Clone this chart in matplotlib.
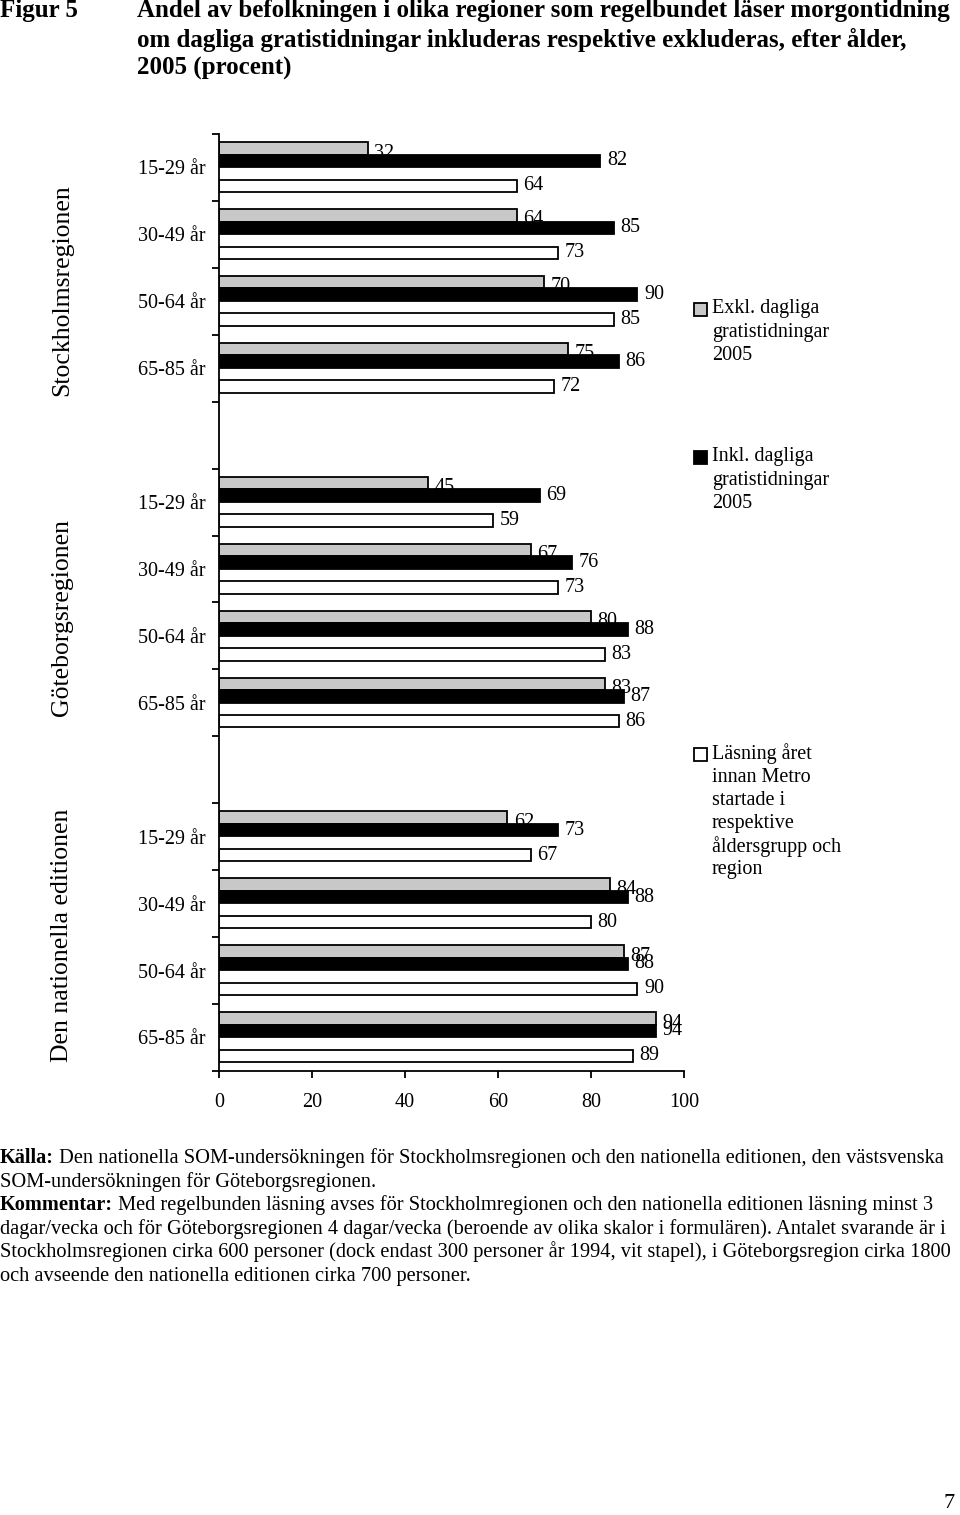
import numpy as np
import matplotlib
matplotlib.use("Agg")
import matplotlib.pyplot as plt
from matplotlib.patches import Rectangle

plt.rcParams['font.family'] = ['Liberation Serif', 'DejaVu Serif']

# data
regioner = ["Stockholmsregionen", "Göteborgsregionen", "Den nationella editionen"]
aldrar = ["15-29 år", "30-49 år", "50-64 år", "65-85 år"]
exkl = [32, 64, 70, 75, 45, 67, 80, 83, 62, 84, 87, 94]
inkl = [82, 85, 90, 86, 69, 76, 88, 87, 73, 88, 88, 94]
fore = [64, 73, 85, 72, 59, 73, 83, 86, 67, 80, 90, 89]
xticks = [0, 20, 40, 60, 80, 100]

grey = "#c8c8c8"
fs = 14.5

fig = plt.figure(figsize=(9.6, 15.15), dpi=100)
ax = fig.add_axes([0.228, 0.2931, 0.4845, 0.6185])

# one empty slot between each region
slots = []
for r in range(3):
    for a in range(4):
        slots.append(r * 5 + a)
slots = np.array(slots)

h = 0.186
y_ex = slots + 0.216
y_in = slots + 0.402
y_fo = slots + 0.775

ax.barh(y_ex, exkl, height=h, color=grey, edgecolor="black", linewidth=1.3, zorder=2)
ax.barh(y_in, inkl, height=h, color="black", edgecolor="black", linewidth=1.3, zorder=4)
ax.barh(y_fo, fore, height=h, color="white", edgecolor="black", linewidth=1.3, zorder=2)

for i in range(len(slots)):
    ax.text(exkl[i] + 1.4, y_ex[i] + 0.07, str(exkl[i]), va="center", ha="left",
            fontsize=fs, zorder=3)
    ax.text(inkl[i] + 1.4, y_in[i], str(inkl[i]), va="center", ha="left",
            fontsize=fs, zorder=5)
    ax.text(fore[i] + 1.4, y_fo[i], str(fore[i]), va="center", ha="left",
            fontsize=fs, zorder=5)

ax.set_xlim(0, 100)
ax.set_ylim(14, 0)
ax.set_xticks(xticks)
ax.set_xticklabels([str(v) for v in xticks], fontsize=fs)
ax.set_yticks(np.arange(15))
ax.set_yticklabels([])
ax.set_yticks(slots + 0.5, minor=True)
ax.set_yticklabels(aldrar * 3, minor=True, fontsize=fs)
ax.tick_params(axis="y", which="minor", length=0, pad=9.5)
ax.tick_params(axis="y", which="major", length=5, width=1.3, direction="out")
ax.tick_params(axis="x", length=5, width=1.3, direction="out", pad=11)
for s in ["top", "right"]:
    ax.spines[s].set_visible(False)
for s in ["left", "bottom"]:
    ax.spines[s].set_linewidth(1.3)

# region labels
for name, yc in zip(regioner, [290, 618, 935]):
    fig.text(62 / 960, 1 - yc / 1515, name, rotation=90, ha="center", va="center",
             fontsize=18.5)

# legend
legend = [
    (grey, ["Exkl. dagliga", "gratistidningar", "2005"], 309),
    ("black", ["Inkl. dagliga", "gratistidningar", "2005"], 457),
    ("white", ["Läsning året", "innan Metro", "startade i", "respektive",
               "åldersgrupp och", "region"], 754),
]
W, H = 960, 1515
for col, lines, y0 in legend:
    fig.patches.append(Rectangle((694 / W, 1 - (y0 + 7) / H), 13 / W, 13 / H,
                                 facecolor=col, edgecolor="black", linewidth=1.3,
                                 transform=fig.transFigure, figure=fig))
    for k, ln in enumerate(lines):
        fig.text(712 / W, 1 - (y0 + k * 23.2) / H, ln, ha="left", va="center",
                 fontsize=fs)

# title
tfs = 18
fig.text(0, 1 - 11 / H, "Figur 5", fontsize=tfs, fontweight="bold", va="center")
title = ["Andel av befolkningen i olika regioner som regelbundet läser morgontidning",
         "om dagliga gratistidningar inkluderas respektive exkluderas, efter ålder,",
         "2005 (procent)"]
for k, ln in enumerate(title):
    fig.text(137 / W, 1 - (11 + k * 28.5) / H, ln, fontsize=tfs, fontweight="bold",
             va="center")

# notes
fn = 14.7
notes = [
    ("Källa:", " Den nationella SOM-undersökningen för Stockholmsregionen och den nationella editionen, den västsvenska"),
    ("", "SOM-undersökningen för Göteborgsregionen."),
    ("Kommentar:", " Med regelbunden läsning avses för Stockholmregionen och den nationella editionen läsning minst 3"),
    ("", "dagar/vecka och för Göteborgsregionen 4 dagar/vecka (beroende av olika skalor i formulären). Antalet svarande är i"),
    ("", "Stockholmsregionen cirka 600 personer (dock endast 300 personer år 1994, vit stapel), i Göteborgsregion cirka 1800"),
    ("", "och avseende den nationella editionen cirka 700 personer."),
]
for k, (b, t) in enumerate(notes):
    yb = 1 - (1163 + k * 23.6) / H
    if b:
        bt = fig.text(0, yb, b, fontsize=fn, fontweight="bold", va="baseline")
        plt.annotate(t, xy=(1, 0), xycoords=bt, va="bottom", ha="left", fontsize=fn,
                     annotation_clip=False)
    else:
        fig.text(0, yb, t, fontsize=fn, va="baseline")

fig.text(955 / W, 1 - 1503 / H, "7", fontsize=16, ha="right", va="center")

fig.savefig("out.png", dpi=100)
